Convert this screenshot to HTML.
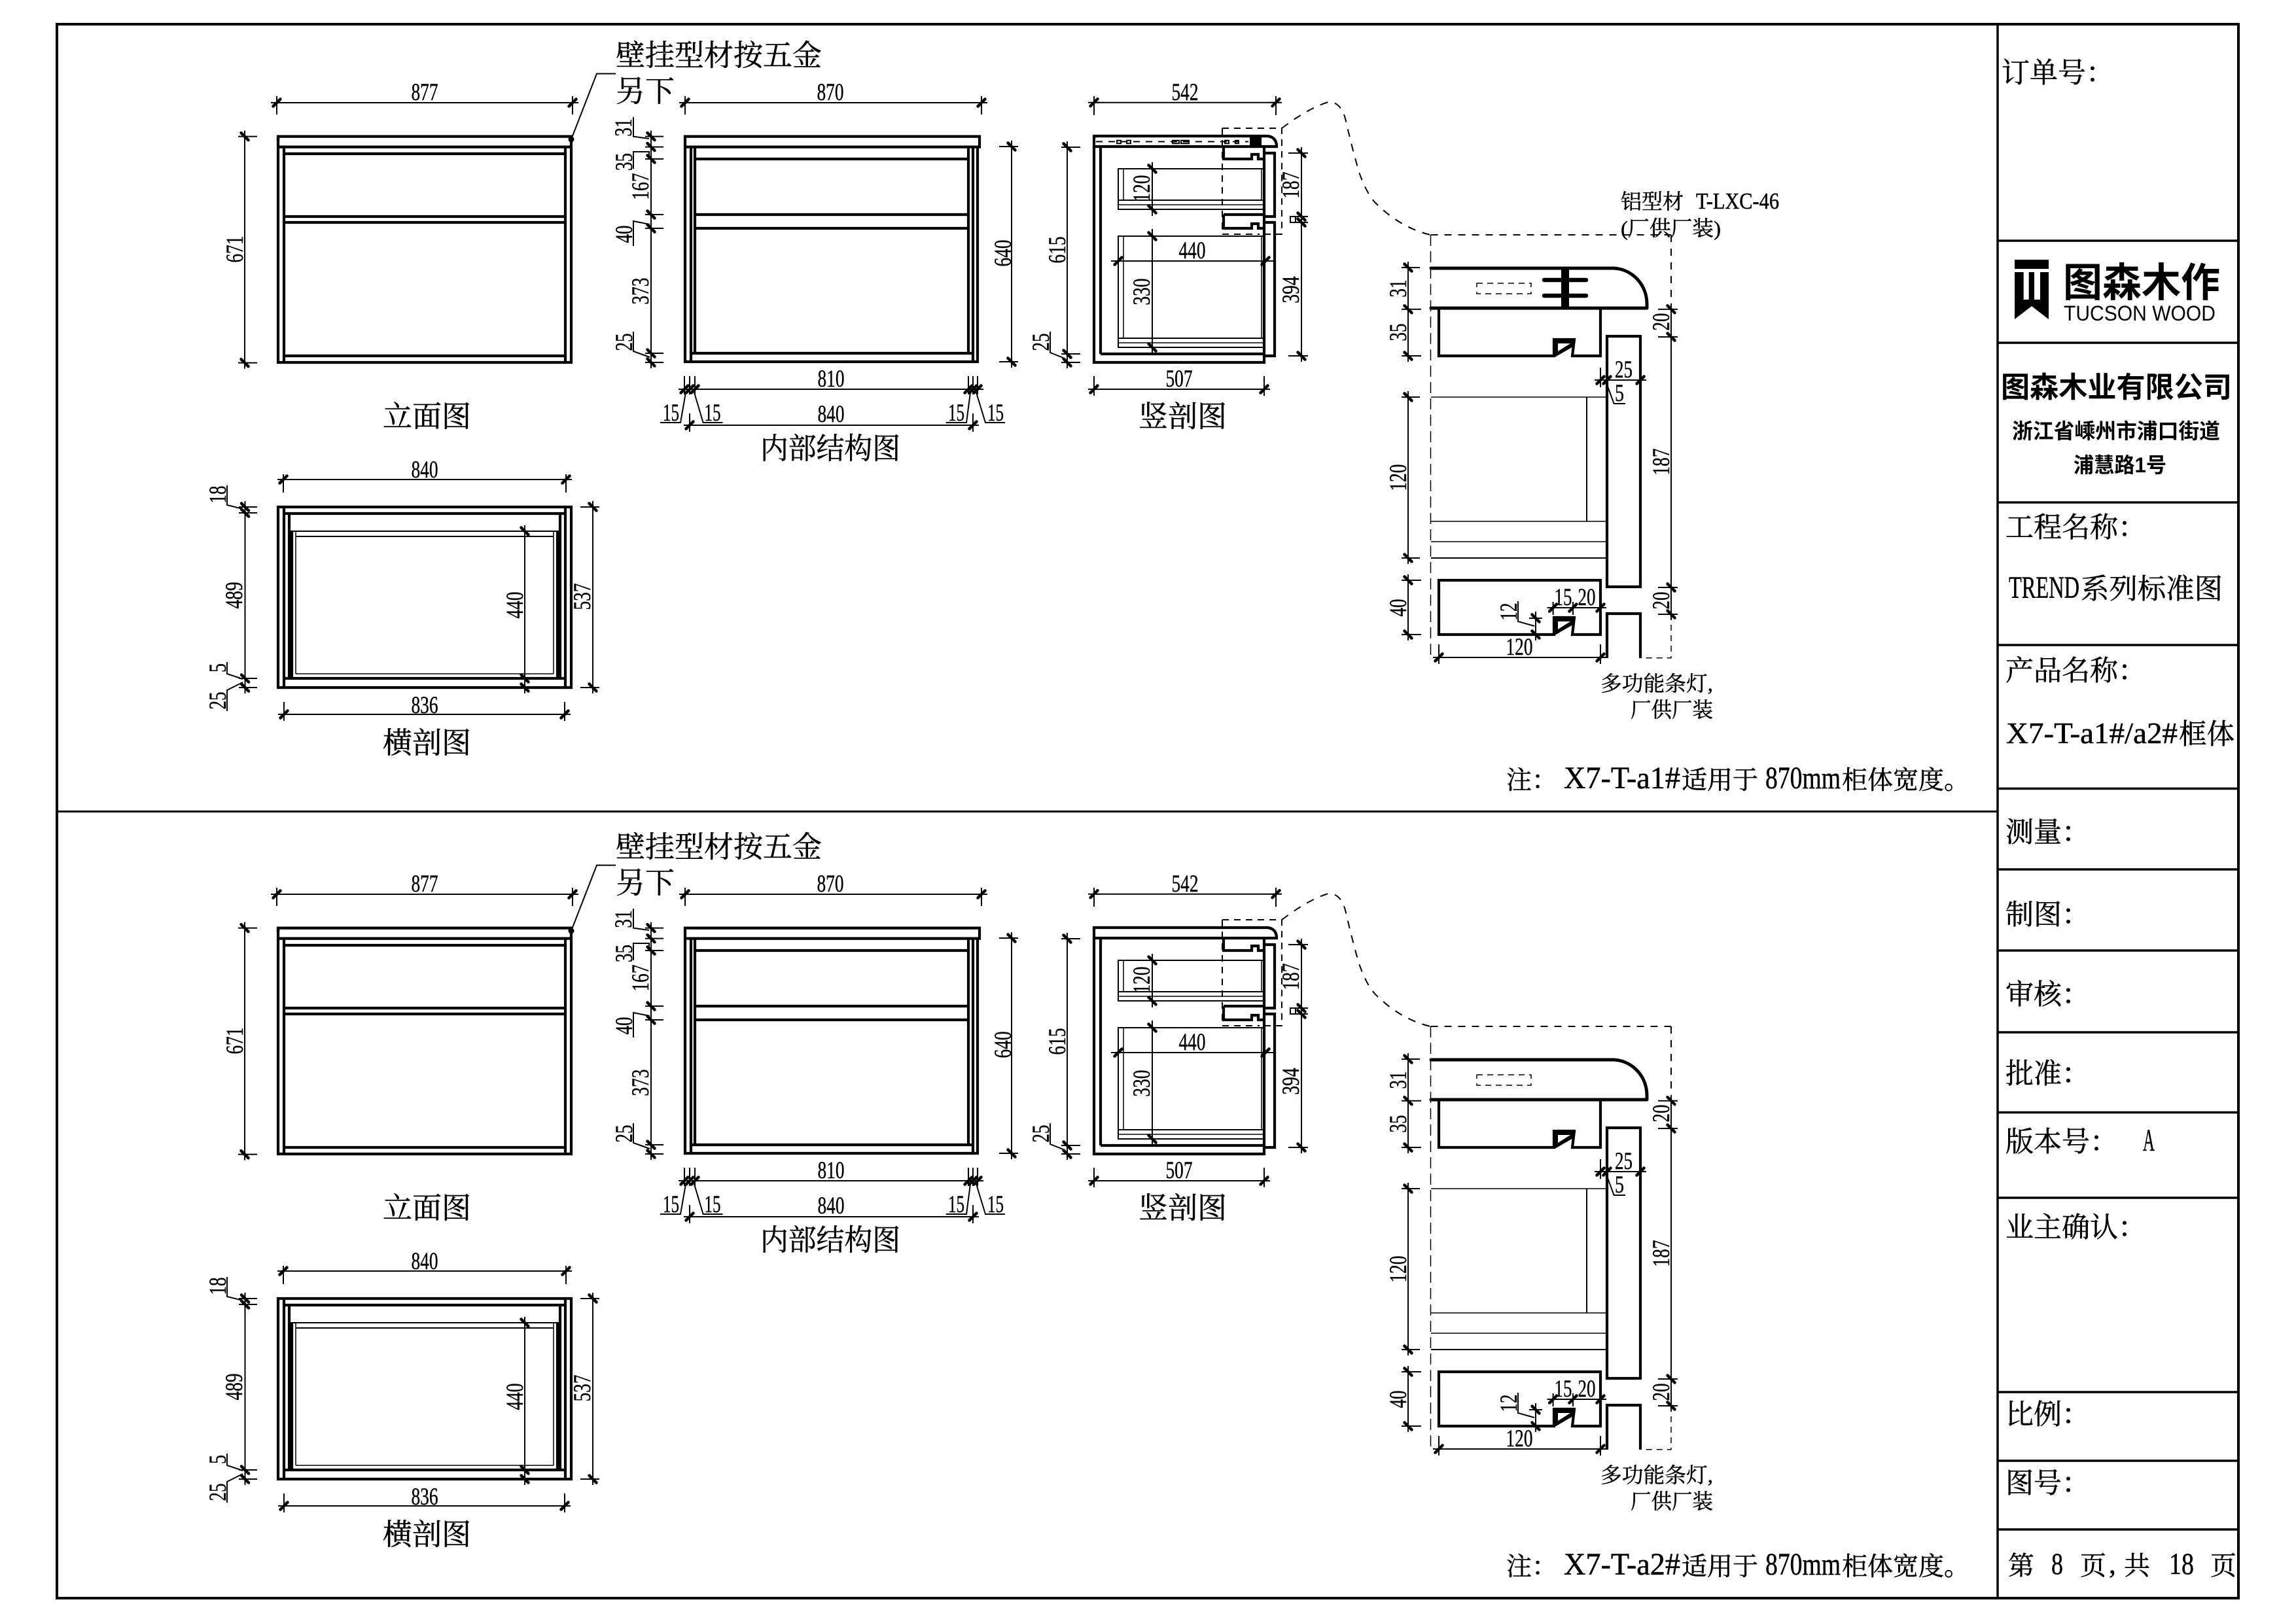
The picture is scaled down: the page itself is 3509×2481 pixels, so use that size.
<!DOCTYPE html>
<html lang="zh-CN"><head><meta charset="utf-8"><title>TREND</title>
<style>
html,body{margin:0;padding:0;background:#fff}
svg{display:block}
.k{fill:none;stroke:#000;stroke-width:4.2;stroke-linejoin:miter}
.p{fill:none;stroke:#000;stroke-width:5;stroke-linecap:round;stroke-linejoin:round}
.n{fill:none;stroke:#000;stroke-width:2}
.h{fill:none;stroke:#000;stroke-width:1.5}
.m{fill:none;stroke:#000;stroke-width:2;marker:url(#t)}
.a{fill:none;stroke:#000;stroke-width:2;stroke-dasharray:12 11}
.b{fill:none;stroke:#000;stroke-width:1.5;stroke-dasharray:17 8}
.f{fill:none;stroke:#000;stroke-width:1.5;stroke-dasharray:9 7}
text{fill:#000}
.d{font:37px "Liberation Serif",serif;text-anchor:middle;stroke:#000;stroke-width:.4}
.c{font-family:"Liberation Serif","Noto Serif CJK SC",serif;stroke:#000;stroke-width:.5}
.c45{font-size:45px}
.c43{font-size:43px}
.c31{font-size:32px}
.c38{font-size:39px}
.s{font-family:"Liberation Sans","Noto Sans CJK SC",sans-serif}
</style></head><body>
<svg xmlns="http://www.w3.org/2000/svg" width="3509" height="2481" viewBox="0 0 3509 2481">
<defs>
<marker id="t" markerUnits="userSpaceOnUse" orient="auto" overflow="visible" markerWidth="30" markerHeight="30" refX="0" refY="0">
<path d="M-9 0H9" fill="none" stroke="#000" stroke-width="2"/>
<path d="M-5.5 5.5L5.5 -5.5" fill="none" stroke="#000" stroke-width="4.5" stroke-linecap="round"/>
</marker>
<g id="g">
<!-- elevation -->
<path class="k" d="M425 208.6H873V224.6H425Z M425 224.6V554H873V224.6 M434 224.6V554 M864 224.6V554 M434 235H864 M434 331H864 M434 340H864 M434 544H864"/>
<circle cx="873" cy="213" r="4.5"/><circle cx="425" cy="213" r="2.5"/>
<path class="n" d="M941 112.6H912L873 213"/>
<path class="m" d="M423 157H875"/>
<path class="n" d="M423 147V175 M875 147V175"/>
<path class="m" d="M374 208.6V554.6"/>
<path class="n" d="M364 208.6H393 M364 554.6H393"/>
<!-- interior -->
<path class="k" d="M1047 208.6H1497V224.6H1047Z M1047 224.6V553H1494V224.6 M1056 224.6V553 M1062 224.6V540 M1480 224.6V540 M1487 224.6V553 M1062 243H1480 M1062 328H1480 M1062 349H1480 M1056 540H1487"/>
<path class="m" d="M1047 157H1500"/>
<path class="n" d="M1047 147V175 M1500 147V175"/>
<path class="m" d="M995 208.6V224.6V243V328V349V540V554"/>
<path class="n" d="M986 208.6H1014 M986 224.6H1014 M986 243H1014 M986 328H1014 M986 349H1014 M986 540H1014 M986 554H1014"/>
<path class="n" d="M968 179V208.6L992 212 M968 258V232H992V240 M968 376V338L993 343 M968 507V537L993 546"/>
<path class="m" d="M1546 224V553"/>
<path class="n" d="M1527 224H1556 M1527 553H1556"/>
<path class="m" d="M1046 595H1054H1062H1480H1487H1494"/>
<path class="n" d="M1046 575V603 M1054 575V603 M1062 575V603 M1480 575V603 M1487 575V603 M1494 575V603"/>
<path class="m" d="M1054 650H1487"/>
<path class="n" d="M1054 632V660 M1487 632V660"/>
<path class="n" d="M1009 646H1040L1048 600 M1104.5 646H1074.6L1061 600 M1445.6 646H1477L1483 600 M1536 646H1506L1492 600"/>
<!-- section -->
<path class="k" d="M1672 224V208H1938Q1950 210 1951 222V224H1672 M1672 224V554H1932V224 M1682 224V541 M1682 541H1932 M1934 234H1948V331H1934 M1934 340H1948V544H1934"/>
<path class="k" d="M1870 225V243H1913V236H1923V243H1932 M1870 328H1932 M1870 328V349H1913V342H1923V349H1932"/>
<path class="n" d="M1933 258H1709V320H1933 M1709 306H1933 M1933 361H1709V531H1933 M1709 517H1933"/>
<path class="h" d="M1717 258V306 M1709 313H1933 M1928 258V306 M1717 361V517 M1709 524H1933 M1928 361V517"/>
<path class="n" d="M1868 196H1959V358H1925 M1868 196V358H1925" stroke-dasharray="10 8"/>
<path class="a" d="M1959 196Q2000 165 2030 156Q2050 155 2057 185Q2066 225 2077 263Q2088 295 2102 310Q2140 348 2186 359"/>
<path class="m" d="M1672 156.7H1950"/>
<path class="n" d="M1672 147V176 M1950 147V176"/>
<path class="m" d="M1631 225V541V554"/>
<path class="n" d="M1622 225H1651 M1622 541H1651 M1622 554H1651 M1605 507V539L1625 547"/>
<path class="m" d="M1672 595H1932"/>
<path class="n" d="M1672 575V605 M1932 575V605"/>
<path class="m" d="M1989 234V331"/><path class="m" d="M1989 340V544"/>
<path class="n" d="M1969 234H1999 M1971 331H1999 M1971 340H1999 M1969 544H1999 M1972 331V341 M1980 331V341"/>
<path class="m" d="M1761 258V320"/><path class="m" d="M1761 361V531"/>
<path class="n" d="M1761 248V330 M1761 350V540 M1698 399H1709 M1934 399H1947"/>
<path class="m" d="M1709 399H1934"/>
<!-- transverse -->
<path class="k" d="M425 775H873V1051H425Z M434 775V1051 M864 775V1051 M434 785H864 M435 1037H862 M442 785V1037 M446 812V1037 M856 785V1037 M852 812V1037"/>
<path class="n" d="M443 812H854 M452 820H846"/>
<path class="h" d="M452 812V1030 M846 812V1030 M452 1030H846"/>
<path class="m" d="M433 733H865"/>
<path class="n" d="M433 725V753 M865 725V753"/>
<path class="m" d="M434 1092H863"/>
<path class="n" d="M434 1073V1102 M863 1073V1102"/>
<path class="m" d="M374.5 775V784V1037V1051"/>
<path class="n" d="M365 775H393 M365 784H393 M365 1037H393 M365 1051H393 M347 742V772L371 778 M347 1012V1030L371 1038 M371 1043L347 1055V1087"/>
<path class="m" d="M802 812V1037V1051"/>
<path class="n" d="M793 812H821"/>
<path class="m" d="M906 775V1051"/>
<path class="n" d="M887 775H916 M887 1051H916"/>
<!-- detail -->
<path class="n" d="M2186.5 359H2554 M2554 359V472" stroke-dasharray="11 10"/>
<path class="b" d="M2186.5 359V1005.7"/>
<path class="f" d="M2554 939V1005.7H2508"/>
<path class="p" d="M2187 410H2467C2495 412 2517 435 2517 465V471H2187"/>
<path class="k" d="M2199 471V544H2375V519H2406L2403 544H2446V471"/>
<path class="k" d="M2199 887H2446V970H2403L2406 944H2375V970H2199Z"/>
<path d="M2374 519H2407L2404 530L2378 545H2373Z M2381 525V537L2400 525Z" fill="#000" fill-rule="evenodd"/>
<path d="M2374 944H2407L2404 955L2378 970H2373Z M2381 950V962L2400 950Z" fill="#000" fill-rule="evenodd"/>
<path class="k" d="M2456 897V514H2507V897Z M2456 1006V938H2507V1006"/>
<path class="h" d="M2187 607H2456 M2187 797H2456 M2187 828H2456"/>
<path class="n" d="M2425 607V797 M2187 853H2456"/>
<path class="f" d="M2257 433H2340V449H2257Z"/>
<path class="m" d="M2554 472.7V515V898V939"/>
<path class="n" d="M2534 472.7H2564 M2534 515H2564 M2534 898H2564 M2534 939H2564"/>
<path class="m" d="M2152 409V472.7V544"/>
<path class="m" d="M2152 607V853"/>
<path class="m" d="M2152 887V970"/>
<path class="n" d="M2142 409H2170 M2142 472.7H2172 M2142 544H2172 M2142 607H2170 M2142 853H2170 M2142 887H2172 M2142 970H2172"/>
<path class="m" d="M2446 581H2456H2507"/>
<path class="n" d="M2446 562V592 M2456 588L2466.6 617H2484"/>
<path class="m" d="M2199 1005H2446"/>
<path class="n" d="M2199 985V1015 M2446 985V1015"/>
<path class="m" d="M2373.6 929H2404H2446"/>
<path class="n" d="M2373.6 920V940 M2404 920V940 M2446 920V940"/>
<path class="m" d="M2347 945V970"/>
<path class="n" d="M2337 945H2357 M2347 935V978 M2320 919V950L2345 957"/>
</g>
</defs>
<rect width="3509" height="2481" fill="#fff"/>
<rect x="87" y="37" width="3334" height="2406" fill="none" stroke="#000" stroke-width="4"/>
<path d="M87 1240.5H3052" stroke="#000" stroke-width="3"/>
<path d="M3053 37V2443 M3053 368H3421 M3053 524H3421 M3053 768H3421 M3053 986H3421 M3053 1205.5H3421 M3053 1329H3421 M3053 1453H3421 M3053 1578H3421 M3053 1700.5H3421 M3053 1831H3421 M3053 2128H3421 M3053 2233H3421 M3053 2338H3421" stroke="#000" stroke-width="3.5" fill="none"/>

<use href="#g"/>
<use href="#g" y="1210"/>

<!-- section 1 only details -->
<path class="n" d="M1675 216.5H1908" stroke-dasharray="10 9"/>
<path class="n" d="M1707 214.7h6v4.5h-6z M1722 214.7h6v4.5h-6z M1792 214.7h10v4.5h-10z M1805 214.7h12v4.5h-12z M1872 214.7h6v4.5h-6z M1888 214.7h5v4.5h-5z"/>
<rect x="1910" y="210" width="18" height="13"/>
<rect x="2386" y="410" width="12" height="61"/>
<path d="M2360 428H2424 M2360 452H2424" stroke="#000" stroke-width="6.5" stroke-linecap="round"/>

<!-- logo -->
<path d="M3079 397H3131V488L3105 468L3079 488Z"/>
<path d="M3079 411H3131V416H3118V458H3109V416H3100.7V458H3092.7V416H3079Z" fill="#fff"/>
<text class="s" x="3153" y="453" font-size="61" font-weight="700" textLength="240" lengthAdjust="spacingAndGlyphs">图森木作</text>
<text x="3154" y="490" font-family="'Liberation Sans',sans-serif" font-size="32" textLength="232" lengthAdjust="spacingAndGlyphs">TUCSON WOOD</text>
<text class="s" x="3058" y="607" font-size="44" font-weight="700" textLength="353" lengthAdjust="spacingAndGlyphs">图森木业有限公司</text>
<text class="s" x="3075" y="670" font-size="32" font-weight="700" textLength="318" lengthAdjust="spacingAndGlyphs">浙江省嵊州市浦口街道</text>
<text class="s" x="3169" y="722" font-size="32" font-weight="700" textLength="142" lengthAdjust="spacingAndGlyphs">浦慧路1号</text>

<!-- title block -->
<g class="c c43">
<text x="3059" y="126">订单号：</text>
<text x="3065" y="821">工程名称：</text>
<text x="3070" y="914" font-size="48" textLength="108" lengthAdjust="spacingAndGlyphs">TREND</text>
<text x="3180" y="915" textLength="217" lengthAdjust="spacingAndGlyphs">系列标准图</text>
<text x="3065" y="1040">产品名称：</text>
<text x="3066" y="1136" font-size="46" textLength="262" lengthAdjust="spacingAndGlyphs">X7-T-a1#/a2#</text>
<text x="3330" y="1137" textLength="85" lengthAdjust="spacingAndGlyphs">框体</text>
<text x="3065" y="1287">测量：</text>
<text x="3065" y="1413">制图：</text>
<text x="3065" y="1535">审核：</text>
<text x="3065" y="1656">批准：</text>
<text x="3065" y="1760">版本号：</text>
<text x="3275" y="1759" font-size="48" textLength="18" lengthAdjust="spacingAndGlyphs">A</text>
<text x="3065" y="1891">业主确认：</text>
<text x="3065" y="2177">比例：</text>
<text x="3065" y="2282">图号：</text>
<text x="3069" y="2407" font-size="40">第</text>
<text x="3135" y="2406" font-size="47" textLength="18" lengthAdjust="spacingAndGlyphs">8</text>
<text x="3179" y="2407" font-size="40">页</text>
<text x="3223" y="2405">,</text>
<text x="3246" y="2407" font-size="40">共</text>
<text x="3315" y="2406" font-size="47" textLength="38" lengthAdjust="spacingAndGlyphs">18</text>
<text x="3378" y="2407" font-size="40">页</text>
</g>

<!-- notes -->
<g class="c c38">
<text x="2302" y="1206">注：</text>
<text x="2390" y="1205" font-size="48" textLength="178" lengthAdjust="spacingAndGlyphs">X7-T-a1#</text>
<text x="2570" y="1206">适用于</text>
<text x="2698" y="1205" font-size="48" textLength="115" lengthAdjust="spacingAndGlyphs">870mm</text>
<text x="2815" y="1206">柜体宽度。</text>
<text x="2302" y="2408">注：</text>
<text x="2390" y="2407" font-size="48" textLength="178" lengthAdjust="spacingAndGlyphs">X7-T-a2#</text>
<text x="2570" y="2408">适用于</text>
<text x="2698" y="2407" font-size="48" textLength="115" lengthAdjust="spacingAndGlyphs">870mm</text>
<text x="2815" y="2408">柜体宽度。</text>
</g>

<!-- section 1 only label -->
<g class="c c31">
<text x="2477" y="319">铝型材</text>
<text x="2592" y="319" font-size="35" textLength="127" lengthAdjust="spacingAndGlyphs">T-LXC-46</text>
<text x="2477" y="360" textLength="153" lengthAdjust="spacingAndGlyphs">(厂供厂装)</text>
</g>

<!-- section 1 labels -->
<g>
<g class="c c45">
<text x="941" y="100">壁挂型材按五金</text>
<text x="941" y="155">另下</text>
<text x="585" y="652">立面图</text>
<text x="1162" y="701" textLength="214" lengthAdjust="spacingAndGlyphs">内部结构图</text>
<text x="1740" y="652">竖剖图</text>
<text x="585" y="1151">横剖图</text>
</g>
<g class="c c31">
<text x="2446" y="1056" textLength="172" lengthAdjust="spacingAndGlyphs">多功能条灯,</text>
<text x="2492" y="1096" textLength="126" lengthAdjust="spacingAndGlyphs">厂供厂装</text>
</g>
<text class="d" x="649" y="153" textLength="41" lengthAdjust="spacingAndGlyphs">877</text>
<text class="d" x="1269" y="153" textLength="41" lengthAdjust="spacingAndGlyphs">870</text>
<text class="d" x="1811" y="153" textLength="41" lengthAdjust="spacingAndGlyphs">542</text>
<text class="d" x="1270" y="591" textLength="41" lengthAdjust="spacingAndGlyphs">810</text>
<text class="d" x="1270" y="645" textLength="41" lengthAdjust="spacingAndGlyphs">840</text>
<text class="d" x="1802" y="591" textLength="41" lengthAdjust="spacingAndGlyphs">507</text>
<text class="d" x="1822" y="395" textLength="41" lengthAdjust="spacingAndGlyphs">440</text>
<text class="d" x="1025.5" y="643" textLength="25" lengthAdjust="spacingAndGlyphs">15</text>
<text class="d" x="1089" y="643" textLength="25" lengthAdjust="spacingAndGlyphs">15</text>
<text class="d" x="1461.5" y="643" textLength="25" lengthAdjust="spacingAndGlyphs">15</text>
<text class="d" x="1521.5" y="643" textLength="25" lengthAdjust="spacingAndGlyphs">15</text>
<text class="d" x="649" y="730" textLength="41" lengthAdjust="spacingAndGlyphs">840</text>
<text class="d" x="649" y="1090" textLength="41" lengthAdjust="spacingAndGlyphs">836</text>
<text class="d" x="2481.5" y="577" textLength="27" lengthAdjust="spacingAndGlyphs">25</text>
<text class="d" x="2475" y="613" textLength="14" lengthAdjust="spacingAndGlyphs">5</text>
<text class="d" x="2322" y="1001" textLength="41" lengthAdjust="spacingAndGlyphs">120</text>
<text class="d" x="2389" y="925" textLength="27" lengthAdjust="spacingAndGlyphs">15</text>
<text class="d" x="2425" y="925" textLength="27" lengthAdjust="spacingAndGlyphs">20</text>
<text class="d" transform="translate(371 381) rotate(-90)" textLength="41" lengthAdjust="spacingAndGlyphs">671</text>
<text class="d" transform="translate(965 195) rotate(-90)" textLength="27" lengthAdjust="spacingAndGlyphs">31</text>
<text class="d" transform="translate(966 247.5) rotate(-90)" textLength="27" lengthAdjust="spacingAndGlyphs">35</text>
<text class="d" transform="translate(991 285) rotate(-90)" textLength="41" lengthAdjust="spacingAndGlyphs">167</text>
<text class="d" transform="translate(966 358) rotate(-90)" textLength="27" lengthAdjust="spacingAndGlyphs">40</text>
<text class="d" transform="translate(991 445) rotate(-90)" textLength="41" lengthAdjust="spacingAndGlyphs">373</text>
<text class="d" transform="translate(966 523) rotate(-90)" textLength="27" lengthAdjust="spacingAndGlyphs">25</text>
<text class="d" transform="translate(1545 387) rotate(-90)" textLength="41" lengthAdjust="spacingAndGlyphs">640</text>
<text class="d" transform="translate(1628 382) rotate(-90)" textLength="41" lengthAdjust="spacingAndGlyphs">615</text>
<text class="d" transform="translate(1603 523) rotate(-90)" textLength="27" lengthAdjust="spacingAndGlyphs">25</text>
<text class="d" transform="translate(1985 283) rotate(-90)" textLength="41" lengthAdjust="spacingAndGlyphs">187</text>
<text class="d" transform="translate(1985 443) rotate(-90)" textLength="41" lengthAdjust="spacingAndGlyphs">394</text>
<text class="d" transform="translate(1757 288) rotate(-90)" textLength="41" lengthAdjust="spacingAndGlyphs">120</text>
<text class="d" transform="translate(1757 446) rotate(-90)" textLength="41" lengthAdjust="spacingAndGlyphs">330</text>
<text class="d" transform="translate(345 756) rotate(-90)" textLength="27" lengthAdjust="spacingAndGlyphs">18</text>
<text class="d" transform="translate(370 910) rotate(-90)" textLength="41" lengthAdjust="spacingAndGlyphs">489</text>
<text class="d" transform="translate(345 1021) rotate(-90)" textLength="14" lengthAdjust="spacingAndGlyphs">5</text>
<text class="d" transform="translate(345 1071) rotate(-90)" textLength="27" lengthAdjust="spacingAndGlyphs">25</text>
<text class="d" transform="translate(799 925) rotate(-90)" textLength="41" lengthAdjust="spacingAndGlyphs">440</text>
<text class="d" transform="translate(902 912) rotate(-90)" textLength="41" lengthAdjust="spacingAndGlyphs">537</text>
<text class="d" transform="translate(2149 441) rotate(-90)" textLength="27" lengthAdjust="spacingAndGlyphs">31</text>
<text class="d" transform="translate(2149 508) rotate(-90)" textLength="27" lengthAdjust="spacingAndGlyphs">35</text>
<text class="d" transform="translate(2149 730) rotate(-90)" textLength="41" lengthAdjust="spacingAndGlyphs">120</text>
<text class="d" transform="translate(2149 929) rotate(-90)" textLength="27" lengthAdjust="spacingAndGlyphs">40</text>
<text class="d" transform="translate(2551 492) rotate(-90)" textLength="27" lengthAdjust="spacingAndGlyphs">20</text>
<text class="d" transform="translate(2551 706) rotate(-90)" textLength="41" lengthAdjust="spacingAndGlyphs">187</text>
<text class="d" transform="translate(2551 918) rotate(-90)" textLength="27" lengthAdjust="spacingAndGlyphs">20</text>
<text class="d" transform="translate(2318 935) rotate(-90)" textLength="27" lengthAdjust="spacingAndGlyphs">12</text>
</g>

<!-- section 2 labels -->
<g transform="translate(0 1210)">
<g class="c c45">
<text x="941" y="100">壁挂型材按五金</text>
<text x="941" y="155">另下</text>
<text x="585" y="652">立面图</text>
<text x="1162" y="701" textLength="214" lengthAdjust="spacingAndGlyphs">内部结构图</text>
<text x="1740" y="652">竖剖图</text>
<text x="585" y="1151">横剖图</text>
</g>
<g class="c c31">
<text x="2446" y="1056" textLength="172" lengthAdjust="spacingAndGlyphs">多功能条灯,</text>
<text x="2492" y="1096" textLength="126" lengthAdjust="spacingAndGlyphs">厂供厂装</text>
</g>
<text class="d" x="649" y="153" textLength="41" lengthAdjust="spacingAndGlyphs">877</text>
<text class="d" x="1269" y="153" textLength="41" lengthAdjust="spacingAndGlyphs">870</text>
<text class="d" x="1811" y="153" textLength="41" lengthAdjust="spacingAndGlyphs">542</text>
<text class="d" x="1270" y="591" textLength="41" lengthAdjust="spacingAndGlyphs">810</text>
<text class="d" x="1270" y="645" textLength="41" lengthAdjust="spacingAndGlyphs">840</text>
<text class="d" x="1802" y="591" textLength="41" lengthAdjust="spacingAndGlyphs">507</text>
<text class="d" x="1822" y="395" textLength="41" lengthAdjust="spacingAndGlyphs">440</text>
<text class="d" x="1025.5" y="643" textLength="25" lengthAdjust="spacingAndGlyphs">15</text>
<text class="d" x="1089" y="643" textLength="25" lengthAdjust="spacingAndGlyphs">15</text>
<text class="d" x="1461.5" y="643" textLength="25" lengthAdjust="spacingAndGlyphs">15</text>
<text class="d" x="1521.5" y="643" textLength="25" lengthAdjust="spacingAndGlyphs">15</text>
<text class="d" x="649" y="730" textLength="41" lengthAdjust="spacingAndGlyphs">840</text>
<text class="d" x="649" y="1090" textLength="41" lengthAdjust="spacingAndGlyphs">836</text>
<text class="d" x="2481.5" y="577" textLength="27" lengthAdjust="spacingAndGlyphs">25</text>
<text class="d" x="2475" y="613" textLength="14" lengthAdjust="spacingAndGlyphs">5</text>
<text class="d" x="2322" y="1001" textLength="41" lengthAdjust="spacingAndGlyphs">120</text>
<text class="d" x="2389" y="925" textLength="27" lengthAdjust="spacingAndGlyphs">15</text>
<text class="d" x="2425" y="925" textLength="27" lengthAdjust="spacingAndGlyphs">20</text>
<text class="d" transform="translate(371 381) rotate(-90)" textLength="41" lengthAdjust="spacingAndGlyphs">671</text>
<text class="d" transform="translate(965 195) rotate(-90)" textLength="27" lengthAdjust="spacingAndGlyphs">31</text>
<text class="d" transform="translate(966 247.5) rotate(-90)" textLength="27" lengthAdjust="spacingAndGlyphs">35</text>
<text class="d" transform="translate(991 285) rotate(-90)" textLength="41" lengthAdjust="spacingAndGlyphs">167</text>
<text class="d" transform="translate(966 358) rotate(-90)" textLength="27" lengthAdjust="spacingAndGlyphs">40</text>
<text class="d" transform="translate(991 445) rotate(-90)" textLength="41" lengthAdjust="spacingAndGlyphs">373</text>
<text class="d" transform="translate(966 523) rotate(-90)" textLength="27" lengthAdjust="spacingAndGlyphs">25</text>
<text class="d" transform="translate(1545 387) rotate(-90)" textLength="41" lengthAdjust="spacingAndGlyphs">640</text>
<text class="d" transform="translate(1628 382) rotate(-90)" textLength="41" lengthAdjust="spacingAndGlyphs">615</text>
<text class="d" transform="translate(1603 523) rotate(-90)" textLength="27" lengthAdjust="spacingAndGlyphs">25</text>
<text class="d" transform="translate(1985 283) rotate(-90)" textLength="41" lengthAdjust="spacingAndGlyphs">187</text>
<text class="d" transform="translate(1985 443) rotate(-90)" textLength="41" lengthAdjust="spacingAndGlyphs">394</text>
<text class="d" transform="translate(1757 288) rotate(-90)" textLength="41" lengthAdjust="spacingAndGlyphs">120</text>
<text class="d" transform="translate(1757 446) rotate(-90)" textLength="41" lengthAdjust="spacingAndGlyphs">330</text>
<text class="d" transform="translate(345 756) rotate(-90)" textLength="27" lengthAdjust="spacingAndGlyphs">18</text>
<text class="d" transform="translate(370 910) rotate(-90)" textLength="41" lengthAdjust="spacingAndGlyphs">489</text>
<text class="d" transform="translate(345 1021) rotate(-90)" textLength="14" lengthAdjust="spacingAndGlyphs">5</text>
<text class="d" transform="translate(345 1071) rotate(-90)" textLength="27" lengthAdjust="spacingAndGlyphs">25</text>
<text class="d" transform="translate(799 925) rotate(-90)" textLength="41" lengthAdjust="spacingAndGlyphs">440</text>
<text class="d" transform="translate(902 912) rotate(-90)" textLength="41" lengthAdjust="spacingAndGlyphs">537</text>
<text class="d" transform="translate(2149 441) rotate(-90)" textLength="27" lengthAdjust="spacingAndGlyphs">31</text>
<text class="d" transform="translate(2149 508) rotate(-90)" textLength="27" lengthAdjust="spacingAndGlyphs">35</text>
<text class="d" transform="translate(2149 730) rotate(-90)" textLength="41" lengthAdjust="spacingAndGlyphs">120</text>
<text class="d" transform="translate(2149 929) rotate(-90)" textLength="27" lengthAdjust="spacingAndGlyphs">40</text>
<text class="d" transform="translate(2551 492) rotate(-90)" textLength="27" lengthAdjust="spacingAndGlyphs">20</text>
<text class="d" transform="translate(2551 706) rotate(-90)" textLength="41" lengthAdjust="spacingAndGlyphs">187</text>
<text class="d" transform="translate(2551 918) rotate(-90)" textLength="27" lengthAdjust="spacingAndGlyphs">20</text>
<text class="d" transform="translate(2318 935) rotate(-90)" textLength="27" lengthAdjust="spacingAndGlyphs">12</text>
</g>
</svg>
</body></html>
